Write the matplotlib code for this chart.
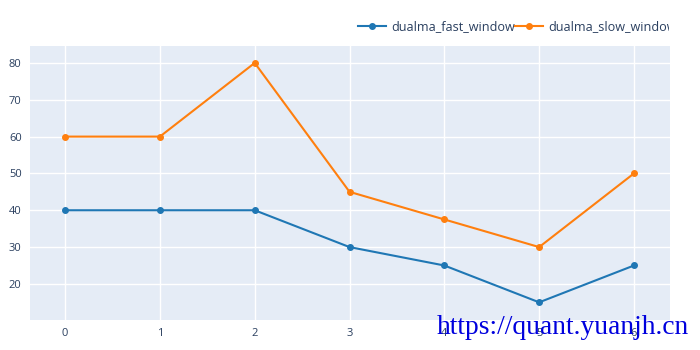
import matplotlib.pyplot as plt
from matplotlib.transforms import Bbox

x = [0, 1, 2, 3, 4, 5, 6]
fast_window = [40, 40, 40, 30, 25, 15, 25]
slow_window = [60, 60, 80, 45, 37.5, 30, 50]

plt.rcParams['font.family'] = ['Open Sans', 'DejaVu Sans']

fig = plt.figure(figsize=(7, 3.5), dpi=100)
ax = fig.add_axes([30/700, 1 - 320/350, 640/700, 274/350])
ax.set_facecolor('#E5ECF6')

ax.plot(x, fast_window, color='#1f77b4', lw=1.5, marker='o', ms=4, label='dualma_fast_window')
ax.plot(x, slow_window, color='#ff7f0e', lw=1.5, marker='o', ms=4, label='dualma_slow_window')

ax.set_xlim(-0.37, 6.38)
ax.set_ylim(10.2, 84.6)
ax.set_xticks(x)
ax.set_yticks([20, 30, 40, 50, 60, 70, 80])
ax.grid(color='white', lw=1)
ax.set_axisbelow(True)
for s in ax.spines.values():
    s.set_visible(False)
ax.tick_params(length=0, labelsize=8, colors='#2a3f5f', pad=6)

leg = fig.legend(loc='upper left', bbox_to_anchor=(352/700, 1 - 14/350), ncol=2, frameon=False,
                 fontsize=9.1, labelcolor='#2a3f5f', handlelength=2.2, handletextpad=0.4,
                 columnspacing=0.0, borderpad=0)
# legend gets cut off at the right like the original
for t in leg.get_texts():
    t.set_clip_box(Bbox([[0, 0], [669, 350]]))
    t.set_clip_on(True)

# watermark
fig.text(437/700, 1 - 334/350, 'https://quant.yuanjh.cn', color='#0000dd',
         fontsize=19.8, family='Liberation Serif')

fig.savefig('out.png')
